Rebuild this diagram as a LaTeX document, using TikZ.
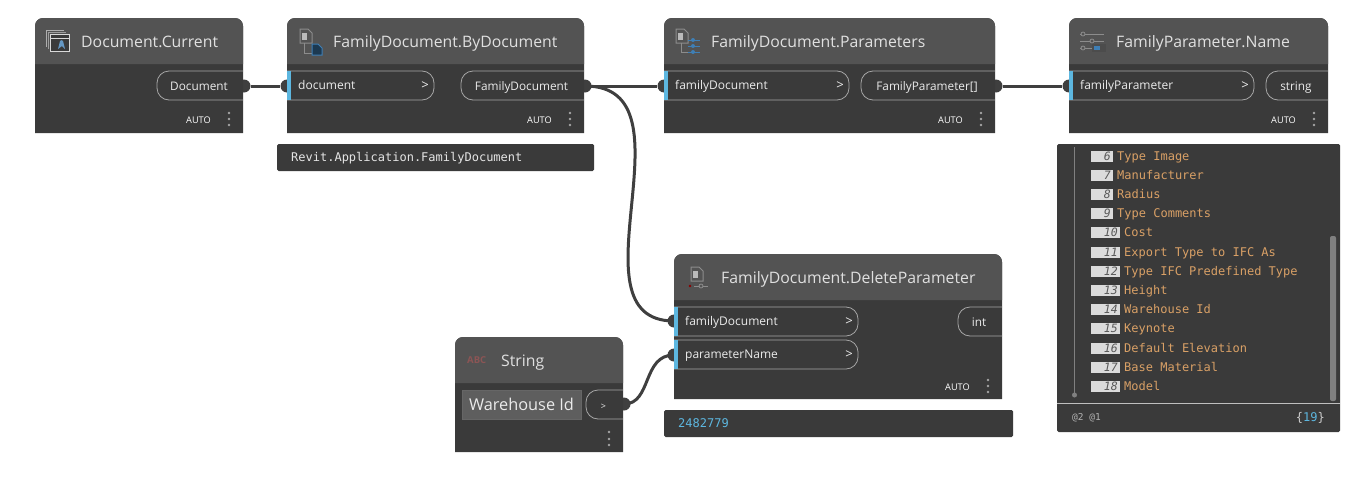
\documentclass[tikz,border=0pt]{standalone}
\usepackage{fontspec}
\setmainfont{Open Sans}
\setmonofont{DejaVu Sans Mono}
\usetikzlibrary{positioning,calc}
\definecolor{cardbody}{HTML}{3A3A3A}
\definecolor{cardhead}{HTML}{535353}
\definecolor{wirecol}{HTML}{3F3F3F}
\definecolor{portblue}{HTML}{5DB7E0}
\definecolor{portline}{HTML}{A6A6A6}
\definecolor{watchorange}{HTML}{D9A066}
\definecolor{icongrey}{HTML}{8C8C8C}
\definecolor{iconblue}{HTML}{3F7FB5}
\definecolor{abcred}{HTML}{8C5555}

% card: name, x0, y0, x1, y1, title x, title
\newcommand{\card}[7]{%
    \fill[cardbody] (#2,#5) [rounded corners=8pt] -- (#2,#3) -- (#4,#3) [sharp corners] -- (#4,#5) -- cycle;
    \fill[cardhead] (#2,#3+46) [rounded corners=8pt] -- (#2,#3) -- (#4,#3) [sharp corners] -- (#4,#3+46) -- cycle;
    \node[cardtitle] (#1) at (#6,#3+23.5) {#7};
}
% input port: name, x0, x1, y0, text
\newcommand{\inport}[5]{%
    \node[inlabel] (#1) at (#2+11,#4+14) {#5};
    \node[chevron] (#1-chev) at (#3-9,#4+15) {>};
    \draw[portline,rounded corners=12pt] (#2,#4) -- (#3,#4) -- (#3,#4+29) -- (#2,#4+29);
    \fill[portblue] (#2,#4) rectangle (#2+4,#4+29);
}
% output port: name, x0, x1, y0, text
\newcommand{\outport}[5]{%
    \node[outlabel,xshift=-1pt] (#1) at ($(#2,#4+15)!.5!(#3,#4+15)$) {#5};
    \draw[portline,rounded corners=12pt] (#3,#4) -- (#2,#4) -- (#2,#4+29) -- (#3,#4+29);
}
% lacing and menu: name, x1, y
\newcommand{\lacing}[3]{%
    \node[autolabel] (#1) at (#2-32,#3+.7) {AUTO};
    \foreach \dy in {-6,0,6}
        \fill[menudot] (#2-14,#3+\dy) circle (1.4);
}
% small page: x, y
\newcommand{\pageicon}[2]{%
    \draw[icongrey,fill=cardhead,line width=1pt] (#1,#2) -- (#1+8,#2) -- (#1+12,#2+4) -- (#1+12,#2+14) -- (#1,#2+14) -- cycle;
    \fill[icongrey!60] (#1+2,#2+4) rectangle (#1+7,#2+11);
}

\begin{document}
\begin{tikzpicture}[%
                    x=1pt,y=-1pt,
                    cardtitle/.style={anchor=west,inner sep=0,text height=12pt,text depth=0pt,text=white!88!black,font=\fontsize{15.8}{18}\selectfont},
                    inlabel/.style={anchor=west,inner sep=0,text height=9pt,text depth=0pt,text=white!92!black,font=\fontsize{12}{14}\selectfont},
                    outlabel/.style={inner sep=0,text height=9pt,text depth=0pt,text=white!92!black,font=\fontsize{11.8}{14}\selectfont},
                    chevron/.style={inner sep=0,text=white!92!black,font=\fontsize{13}{14}\selectfont},
                    autolabel/.style={anchor=east,inner sep=0,text height=7pt,text depth=0pt,text=white,font=\fontsize{9.2}{11}\selectfont},
                    menudot/.style={fill=white!65!black},
                    portline/.style={draw=portline,line width=.8pt},
                    socket/.style={circle,fill=wirecol,inner sep=0,minimum size=13pt},
                    wire/.style={draw=wirecol,line width=3pt},
                    panel/.style={fill=cardbody,rounded corners=1.5pt},
                    monotext/.style={anchor=west,inner sep=0,text height=8pt,text depth=0pt,font=\ttfamily\fontsize{12}{14}\selectfont},
                    rownum/.style={anchor=east,inner sep=0,text height=8pt,text depth=0pt,text=black!65,font=\ttfamily\itshape\fontsize{11.5}{13}\selectfont},
                    rowtext/.style={monotext,text=watchorange}
        ]
    \useasboundingbox (0,0) rectangle (1364,498);

    \node[socket] (cursock) at (244,86) {};
    \node[socket] (bydin) at (287,86) {};
    \node[socket] (bydout) at (585,86) {};
    \node[socket] (parin) at (664,86) {};
    \node[socket] (parout) at (996,86) {};
    \node[socket] (namein) at (1069,86) {};
    \node[socket] (delina) at (674,321) {};
    \node[socket] (delinb) at (674,355) {};
    \node[socket] (strout) at (624,404) {};

    \path[wire]
        (cursock) -- (bydin)
        (bydout) -- (parin)
        (parout) -- (namein);
    \draw[wire] (bydout.center) .. controls (700,86) and (565,321) .. (delina.center);
    \draw[wire] (strout.center) .. controls (652,404) and (642,355) .. (delinb.center);

    % Document.Current
    \card{curtitle}{35}{18}{243}{133}{81}{Document.Current}
    \outport{curport}{157}{243}{71}{Document}
    \lacing{curauto}{243}{119}
    \draw[icongrey!70,line width=.8pt] (46,47) -- (46,30) -- (64,30);
    \draw[icongrey!85,line width=.8pt] (48,49) -- (48,32) -- (66,32);
    \draw[white!85!black,fill=cardbody,line width=1pt] (50,34) rectangle (69,51);
    \draw[white!85!black,line width=1pt] (50,38) -- (69,38);
    \fill[iconblue!80!white] (58,49) -- (60,41) to[bend left=60] (63,41) -- (65,49) -- (62,46) -- cycle;

    % FamilyDocument.ByDocument
    \card{bydtitle}{287}{18}{584}{133}{333}{FamilyDocument.ByDocument}
    \inport{bydport}{287}{434}{71}{document}
    \outport{bydres}{461}{584}{71}{FamilyDocument}
    \lacing{bydauto}{584}{119}
    \pageicon{300}{29}
    \draw[icongrey,line width=.8pt] (304,43) -- (304,53) -- (312,53);
    \draw[iconblue,fill=iconblue!45!black,line width=1pt] (312,44) -- (318,44) -- (322,48) -- (322,55) -- (312,55) -- cycle;

    % FamilyDocument.Parameters
    \card{partitle}{664}{18}{995}{133}{711}{FamilyDocument.Parameters}
    \inport{parport}{664}{849}{71}{familyDocument}
    \outport{parres}{861}{995}{71}{FamilyParameter[]}
    \lacing{parauto}{995}{119}
    \pageicon{676}{29}
    \draw[icongrey,line width=.8pt] (681,43) -- (681,52) -- (688,52);
    \foreach \sy in {40,46,52} {
        \draw[iconblue,line width=.8pt] (688,\sy) -- (700,\sy);
        \fill[iconblue] (693,\sy) circle (2);
    }

    % FamilyParameter.Name
    \card{nametitle}{1069}{18}{1328}{133}{1116}{FamilyParameter.Name}
    \inport{nameport}{1069}{1254}{71}{familyParameter}
    \outport{nameres}{1266}{1328}{71}{string}
    \lacing{nameauto}{1328}{119}
    \foreach \sy/\sx in {34/1083,41/1092,48/1083} {
        \draw[icongrey,line width=1pt] (1080,\sy) -- (1104,\sy);
        \draw[icongrey,fill=cardhead,line width=.8pt] (\sx,\sy) circle (2);
    }
    \fill[black!70] (1092,44) rectangle (1106,52);
    \fill[iconblue] (1094,46) rectangle (1100,50);

    % FamilyDocument.DeleteParameter
    \card{deltitle}{674}{254}{1002}{399}{721}{FamilyDocument.DeleteParameter}
    \inport{delporta}{674}{858}{307}{familyDocument}
    \inport{delportb}{674}{858}{340}{parameterName}
    \outport{delres}{958}{1002}{307}{int}
    \lacing{delauto}{1002}{386}
    \pageicon{691}{267}
    \fill[red!55!black] (690,286) circle (1.3);
    \draw[icongrey,line width=.8pt] (694,286) -- (708,286);
    \draw[icongrey,fill=cardhead,line width=.8pt] (701,286) circle (2);

    % String
    \card{strtitle}{455}{337}{623}{452}{501}{String}
    \node[inner sep=0,anchor=west,text=abcred,font=\bfseries\fontsize{9.5}{11}\selectfont] (strabc) at (467,360) {ABC};
    \node[draw=black!60,fill=white!37!black,minimum width=119pt,minimum height=29pt,inner sep=0,text=white!92!black,font=\fontsize{16.3}{18}\selectfont] (strval) at (521.5,404.5) {Warehouse Id};
    \outport{strport}{586}{623}{390}{\fontsize{9}{11}\selectfont >}
    \foreach \dy in {432,439,445}
        \fill[menudot] (609,\dy) circle (1.4);

    % previews
    \fill[panel] (277,144) rectangle (594,171);
    \node[monotext,text=white!90!black] (bydprev) at (291,157) {Revit.Application.FamilyDocument};
    \fill[panel] (664,410) rectangle (1013,437);
    \node[monotext,text=portblue] (delprev) at (678,423) {2482779};

    % watch list
    \fill[panel] (1057,144) rectangle (1340,432);
    \draw[white!50!black,line width=.7pt] (1074.5,147) -- (1074.5,395);
    \fill[white!50!black] (1074.5,395) circle (2.5);
    \foreach \n/\t [count=\i from 0] in {6/Type Image,7/Manufacturer,8/Radius,9/Type Comments,10/Cost,11/Export Type to IFC As,12/Type IFC Predefined Type,13/Height,14/Warehouse Id,15/Keynote,16/Default Elevation,17/Base Material,18/Model} {
        \pgfmathsetmacro{\ry}{156.3+19.17*\i}
        \pgfmathsetmacro{\rx}{\n>9 ? 1120 : 1113}
        \fill[white!86!black] (1091,\ry-5.5) rectangle (\rx,\ry+5.5);
        \node[rownum] (num\n) at (\rx-2,\ry) {\n};
        \node[rowtext] (row\n) at (\rx+4,\ry) {\t};
    }
    \fill[white!50!black,rounded corners=2pt] (1330,236) rectangle (1336,401);
    \draw[white!75!black,line width=.8pt] (1057,403) -- (1340,403);
    \node[anchor=west,inner sep=0,text=white!70!black,font=\ttfamily\fontsize{9.5}{11}\selectfont] (watchlvl) at (1072,418) {@2 @1};
    \node[anchor=east,inner sep=0,text=white!80!black,font=\ttfamily\fontsize{12}{14}\selectfont] (watchcnt) at (1325,418) {\{\textcolor{portblue}{19}\}};
\end{tikzpicture}
\end{document}
